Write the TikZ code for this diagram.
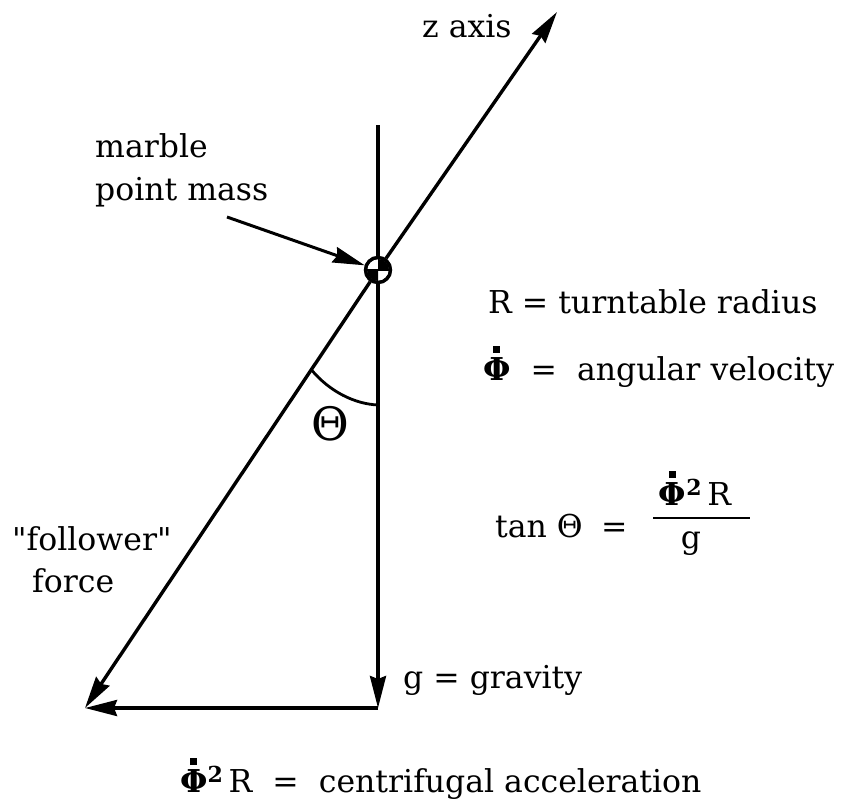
\documentclass[tikz,border=0pt]{standalone}
\usepackage{fontspec}
\setmainfont{DejaVu Serif}
\newfontfamily\qfont{DejaVu Serif}[Ligatures=TeXOff]
\usetikzlibrary{arrows.meta}
\newcommand{\phidot}{{\setbox0\hbox{\bfseries Φ}\rlap{\hbox to\wd0{\hss\raisebox{0.85em}{\rule{0.22em}{0.22em}}\hss}}\box0}}
\newcommand{\qq}{{\qfont "}}
\tikzset{
  ln/.style={line width=3.4pt},
  tipend/.style={-{Stealth[length=32pt,width=16pt,inset=3pt]}},
  lbl/.style={inner sep=0pt, font=\fontsize{31.5}{38}\selectfont},
  marble/.style={circle, draw, line width=3.2pt, fill=white, minimum size=25pt, inner sep=0pt},
}
\begin{document}
\begin{tikzpicture}[x=1pt,y=-1pt]
\useasboundingbox (0,0) rectangle (854,800);
% key points
\node[marble] (m) at (378,270) {};
\coordinate (vtop) at (378,125);
\coordinate (zt) at (557,12);
\coordinate (bl) at (85,708);
\coordinate (br) at (378,708);
\coordinate (arrs) at (227,217);
\coordinate (a1) at (311.3,369.7);
\coordinate (a2) at (378,405);
\coordinate (barL) at (653,518);
\coordinate (barR) at (750,518);
% lines
\draw[ln] (vtop) -- (m.north);
\draw[ln,tipend] (m) -- (zt);
\draw[ln,tipend] (m) -- (bl);
\draw[ln,tipend] (m.south) -- (br);
\draw[ln,tipend] (br) -- (bl);
\draw[line width=3pt,tipend] (arrs) -- (m);
% angle arc
\draw[line width=2.8pt] (a1) .. controls (330,392) and (355,404) .. (a2);
% marble symbol
\fill ([shift={(-11,0)}]m.center) arc[start angle=180,end angle=90,radius=11] -- (m.center) -- cycle;
\fill ([shift={(11,0)}]m.center) arc[start angle=0,end angle=-90,radius=11] -- (m.center) -- cycle;
\draw[line width=2pt] ([shift={(-11,0)}]m.center) -- ([shift={(11,0)}]m.center);
\node[marble, fill=none] (m2) at (m.center) {};
% labels
\node[lbl, anchor=base west] (zlab) at (422,38) {z axis};
\node[lbl, anchor=base west] (marb) at (95,157) {marble};
\node[lbl, anchor=base west] (pm) at (95,200) {point mass};
\node[lbl, anchor=base west] (Rdef) at (488,313) {R = turntable radius};
\node[lbl, anchor=base west] (phidef) at (483,380) {\phidot\ \ = \ angular velocity};
\node[lbl, anchor=base west] (tan) at (495,537) {tan Θ};
\node[lbl, anchor=base west] (eq) at (601,537) {=};
\node[lbl, anchor=base] (num) at (695,505) {\phidot\textsuperscript{\bfseries 2}\,R};
\draw[line width=2.4pt] (barL) -- (barR);
\node[lbl, anchor=base] (den) at (691,548) {g};
\node[lbl, anchor=base west] (fol) at (12,550) {\qq follower\qq};
\node[lbl, anchor=base west] (frc) at (32,592) {force};
\node[lbl, anchor=base west] (grav) at (403,688) {g = gravity};
\node[lbl, anchor=base west] (cent) at (180,792) {\phidot\textsuperscript{\bfseries 2}\,R \ = \ centrifugal acceleration};
\node[inner sep=0pt, font=\fontsize{46}{50}\selectfont, anchor=base] (th) at (330,440) {Θ};
\end{tikzpicture}
\end{document}
